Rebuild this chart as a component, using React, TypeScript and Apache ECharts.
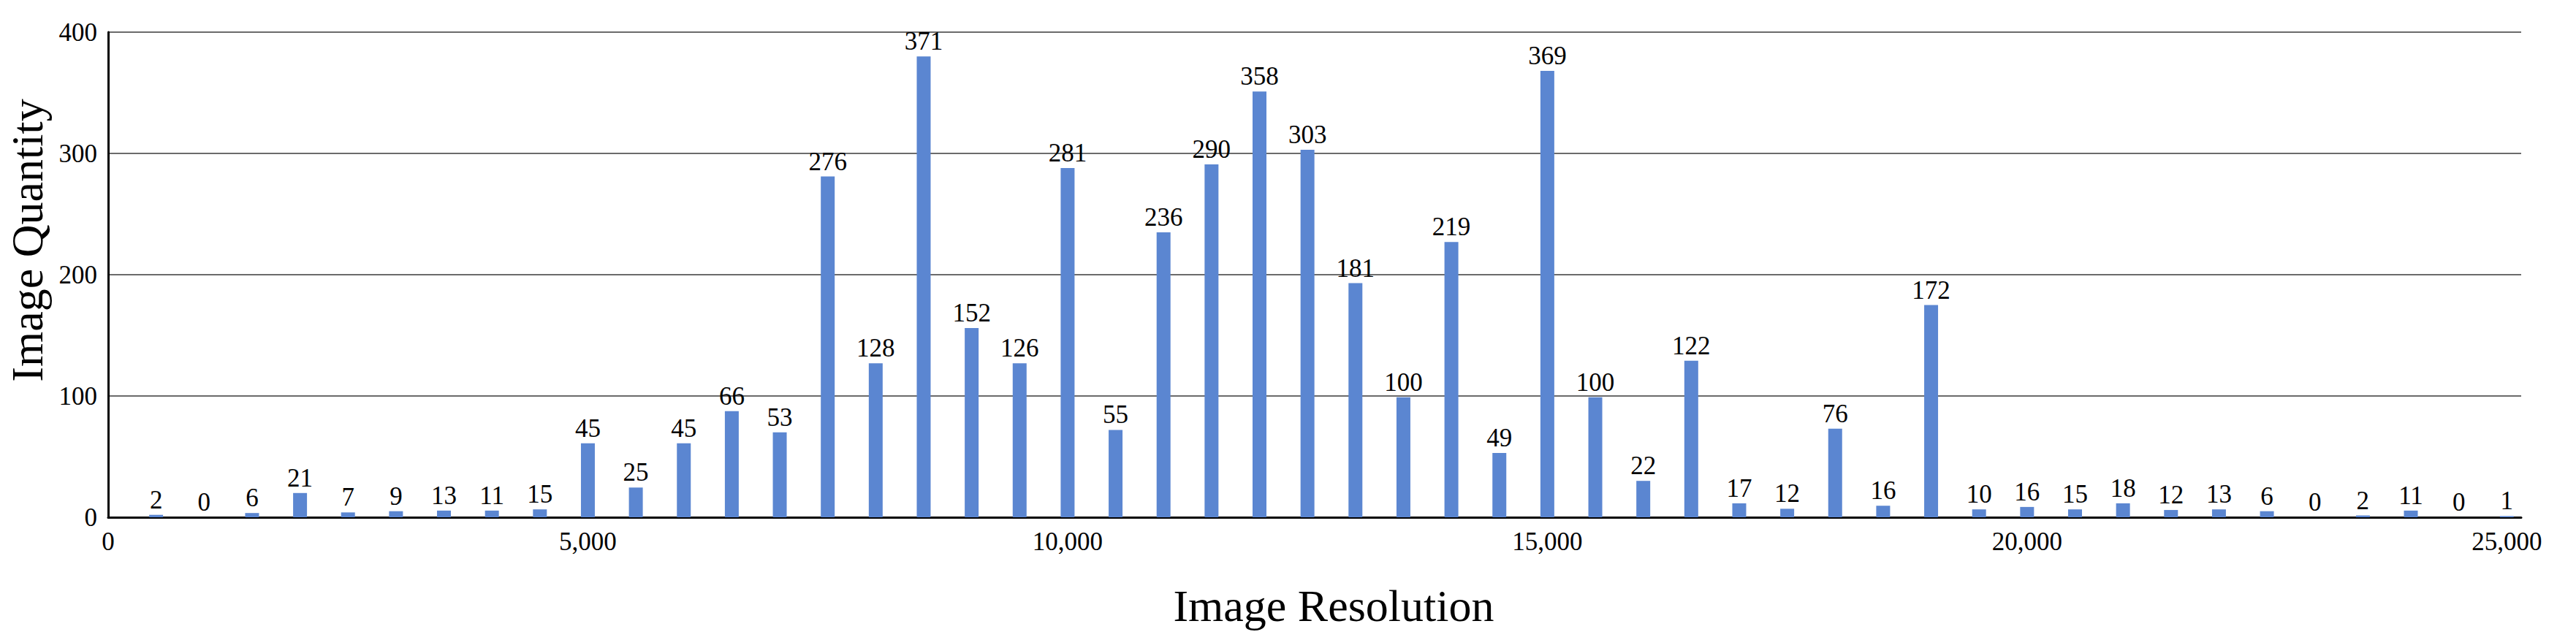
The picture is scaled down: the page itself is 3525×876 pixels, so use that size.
import React, { useEffect, useRef } from "react";
import * as echarts from "echarts";

// Image resolution (bin positions)
const resolutions: number[] = [
  500, 1000, 1500, 2000, 2500, 3000, 3500, 4000, 4500, 5000,
  5500, 6000, 6500, 7000, 7500, 8000, 8500, 9000, 9500, 10000,
  10500, 11000, 11500, 12000, 12500, 13000, 13500, 14000, 14500, 15000,
  15500, 16000, 16500, 17000, 17500, 18000, 18500, 19000, 19500, 20000,
  20500, 21000, 21500, 22000, 22500, 23000, 23500, 24000, 24500, 25000,
];

// Bar heights as drawn in the picture
const barHeights: number[] = [
  2, 0, 3.5, 20, 4, 5, 5.5, 5.5, 6.5, 61,
  24.5, 61, 87.5, 70, 281, 127, 380, 156, 127, 288,
  72, 235, 291, 351, 303, 193, 99, 227, 53, 368,
  99, 30, 129, 11.5, 7, 73, 9.5, 175, 6.5, 8.5,
  6.5, 11.5, 6, 6.5, 5, 0, 1.5, 5.5, 0, 1,
];

// Data labels as printed above the bars
const labelValues: number[] = [
  2, 0, 6, 21, 7, 9, 13, 11, 15, 45,
  25, 45, 66, 53, 276, 128, 371, 152, 126, 281,
  55, 236, 290, 358, 303, 181, 100, 219, 49, 369,
  100, 22, 122, 17, 12, 76, 16, 172, 10, 16,
  15, 18, 12, 13, 6, 0, 2, 11, 0, 1,
];

const xTitle = "Image Resolution";
const yTitle = "Image Quantity";

const FONT = "'Liberation Serif', 'Times New Roman', serif";

function fmt(v: number): string {
  return String(v).replace(/\B(?=(\d{3})+(?!\d))/g, ",");
}

export default function App() {
  const ref = useRef<HTMLDivElement>(null);

  useEffect(() => {
    if (!ref.current) return;
    const chart = echarts.init(ref.current, undefined, { renderer: "svg" });
    const data = resolutions.map((r, i) => [r, barHeights[i]]);
    chart.setOption({
      animation: false,
      backgroundColor: "#ffffff",
      grid: { left: 148, right: 75, top: 44, bottom: 168, containLabel: false },
      xAxis: {
        type: "value",
        min: 0,
        max: 25150,
        interval: 5000,
        axisLine: { show: true, lineStyle: { color: "#000000", width: 3 } },
        axisTick: { show: false },
        splitLine: { show: false },
        axisLabel: {
          show: true,
          showMaxLabel: false,
          margin: 16,
          fontFamily: FONT,
          fontSize: 35,
          color: "#000000",
          formatter: (v: number) => (v % 5000 === 0 ? fmt(v) : ""),
        },
      },
      yAxis: {
        type: "value",
        min: 0,
        max: 400,
        interval: 100,
        axisLine: { show: true, lineStyle: { color: "#000000", width: 3 } },
        axisTick: { show: false },
        splitLine: { show: true, lineStyle: { color: "#6b6b6b", width: 2 } },
        axisLabel: {
          margin: 15,
          fontFamily: FONT,
          fontSize: 35,
          color: "#000000",
        },
      },
      series: [
        {
          type: "bar",
          data,
          barWidth: 19,
          itemStyle: { color: "#5b86d1" },
          label: {
            show: true,
            position: "top",
            distance: 3,
            fontFamily: FONT,
            fontSize: 35,
            color: "#000000",
            formatter: (p: any) => String(labelValues[p.dataIndex]),
          },
        },
      ],
      graphic: [
        {
          type: "text",
          x: 1825,
          y: 829,
          style: {
            text: xTitle,
            font: `62px ${FONT}`,
            fill: "#000000",
            align: "center",
            verticalAlign: "middle",
          },
        },
        {
          type: "text",
          x: 37,
          y: 329,
          rotation: Math.PI / 2,
          style: {
            text: yTitle,
            font: `62px ${FONT}`,
            fill: "#000000",
            align: "center",
            verticalAlign: "middle",
          },
        },
      ],
    });
    return () => chart.dispose();
  }, []);

  return (
    <div
      ref={ref}
      style={{ position: "absolute", left: 0, top: 0, width: 3525, height: 876 }}
    />
  );
}
